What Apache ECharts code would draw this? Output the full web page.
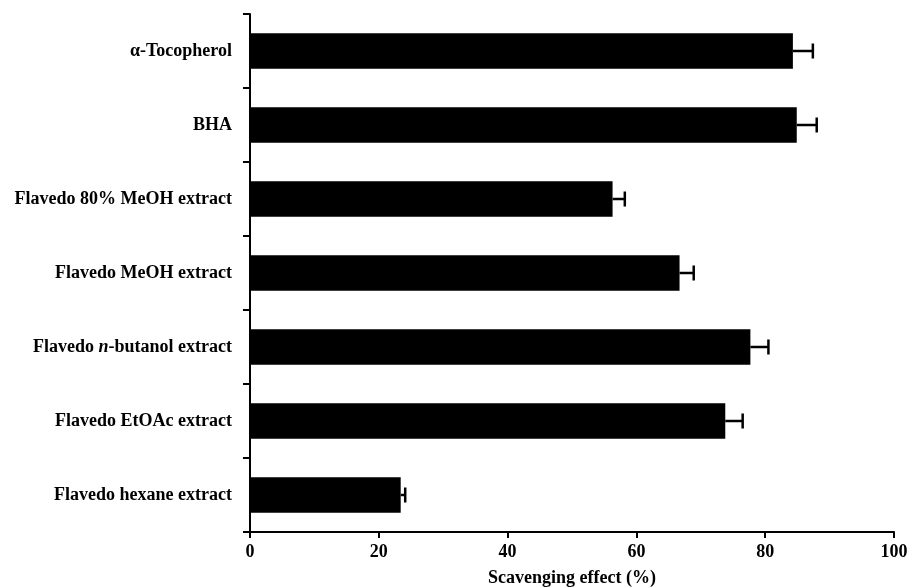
<!DOCTYPE html>
<html>
<head>
<meta charset="utf-8">
<script src="https://cdn.jsdelivr.net/npm/echarts@6/dist/echarts.min.js"></script>
<style>html,body{margin:0;padding:0;background:#fff}#c{width:911px;height:588px}</style>
</head>
<body>
<div id="c"></div>
<script>
var categories = ['α-Tocopherol', 'BHA', 'Flavedo 80% MeOH extract', 'Flavedo MeOH extract', 'Flavedo n-butanol extract', 'Flavedo EtOAc extract', 'Flavedo hexane extract'];
var values = [84.3, 84.9, 56.3, 66.7, 77.7, 73.8, 23.4];
var errors = [3.1, 3.1, 1.9, 2.2, 2.8, 2.7, 0.7];
var xTicks = [0, 20, 40, 60, 80, 100];

var chart = echarts.init(document.getElementById('c'), null, {renderer: 'canvas'});
var font = 'Liberation Serif';
var errData = values.map(function (v, i) { return [v, i, errors[i]]; });

chart.setOption({
  animation: false,
  backgroundColor: '#fff',
  grid: {left: 250, right: 17, top: 14, bottom: 56, containLabel: false, outerBoundsMode: 'none'},
  xAxis: {
    type: 'value', min: xTicks[0], max: xTicks[xTicks.length - 1], interval: 20,
    name: 'Scavenging effect (%)', nameLocation: 'middle', nameGap: 37,
    nameTextStyle: {fontFamily: font, fontSize: 18, fontWeight: 'bold', color: '#000'},
    axisLine: {show: true, lineStyle: {color: '#000', width: 2}},
    axisTick: {show: true, length: 6, lineStyle: {color: '#000', width: 2}},
    axisLabel: {fontFamily: font, fontSize: 18, fontWeight: 'bold', color: '#000', margin: 11},
    splitLine: {show: false}
  },
  yAxis: {
    type: 'category', data: categories, inverse: true,
    axisLine: {show: true, lineStyle: {color: '#000', width: 2}},
    axisTick: {show: true, length: 7, lineStyle: {color: '#000', width: 2}},
    axisLabel: {
      fontFamily: font, fontSize: 18, fontWeight: 'bold', color: '#000', margin: 18,
      formatter: function (v) {
        return v.indexOf('n-butanol') >= 0 ? 'Flavedo {i|n}-butanol extract' : v;
      },
      rich: {i: {fontFamily: font, fontSize: 18, fontWeight: 'bold', fontStyle: 'italic', color: '#000'}}
    },
    splitLine: {show: false}
  },
  series: [
    {
      type: 'bar', data: values, barCategoryGap: '52%',
      itemStyle: {color: '#000'}, z: 2
    },
    {
      type: 'custom', z: 1,
      data: errData,
      encode: {x: 0, y: 1},
      renderItem: function (params, api) {
        var v = api.value(0), c = api.value(1), e = api.value(2);
        var p0 = api.coord([v, c]);
        var p1 = api.coord([v + e, c]);
        var h = 7.5;
        var st = {stroke: '#000', lineWidth: 2.5};
        return {
          type: 'group',
          children: [
            {type: 'line', shape: {x1: p0[0], y1: p0[1], x2: p1[0], y2: p1[1]}, style: st},
            {type: 'line', shape: {x1: p1[0], y1: p1[1] - h, x2: p1[0], y2: p1[1] + h}, style: st}
          ]
        };
      }
    }
  ]
});
</script>
</body>
</html>
